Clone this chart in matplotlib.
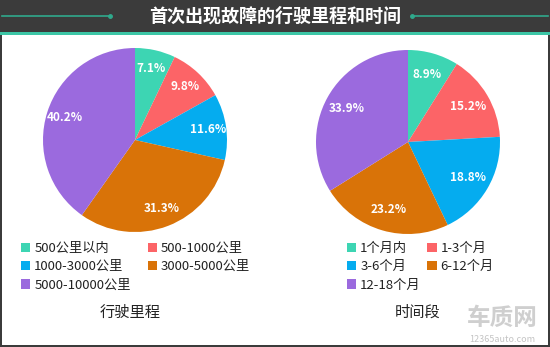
import matplotlib.pyplot as plt
from matplotlib.patches import Rectangle

plt.rcParams['font.family'] = ['Noto Sans CJK SC', 'DejaVu Sans']

# data
title = "首次出现故障的行驶里程和时间"
mileage_labels = ["500公里以内", "500-1000公里", "1000-3000公里", "3000-5000公里", "5000-10000公里"]
mileage_values = [7.1, 9.8, 11.6, 31.3, 40.2]
period_labels = ["1个月内", "1-3个月", "3-6个月", "6-12个月", "12-18个月"]
period_values = [8.9, 15.2, 18.8, 23.2, 33.9]
colors = ["#3dd5b3", "#fc6467", "#05acef", "#d97308", "#9b6ade"]

W, H = 550, 347
fig = plt.figure(figsize=(W / 100, H / 100), dpi=100)
fig.patch.set_facecolor("white")


def px(x, y, w, h):
    # pixel box (top-left origin) -> figure fraction
    return [x / W, 1 - (y + h) / H, w / W, h / H]


# header band
fig.add_artist(Rectangle((0, 1 - 32 / H), 1, 32 / H, transform=fig.transFigure,
                         facecolor="#3b3b3b", edgecolor="none"))
fig.add_artist(Rectangle((0, 1 - 35 / H), 1, 3.5 / H, transform=fig.transFigure,
                         facecolor="#3cc6a6", edgecolor="none"))
# decorative lines beside the title
for x0, x1 in [(2, 110), (412, 548)]:
    fig.add_artist(plt.Line2D([x0 / W, x1 / W], [1 - 16 / H] * 2, transform=fig.transFigure,
                              color="#2fa98c", lw=1.2))
    fig.add_artist(plt.Line2D([x0 / W, x1 / W], [1 - 16 / H] * 2, transform=fig.transFigure,
                              color="#2fa98c", lw=0, marker="o", markersize=2.5,
                              markevery=[1] if x0 < 200 else [0]))
fig.text(0.5, 1 - 16.5 / H, title, color="white", fontsize=13, fontweight="bold",
         ha="center", va="center")

# frame border
for rect in [(0, 0, 2 / W, 1 - 35 / H), (1 - 2 / W, 0, 2 / W, 1 - 35 / H), (0, 0, 1, 2 / H)]:
    fig.add_artist(Rectangle(rect[:2], rect[2], rect[3], transform=fig.transFigure,
                             facecolor="#3b3b3b", edgecolor="none"))

# legend fills column by column, so reorder to read row by row
order = [0, 2, 4, 1, 3]


def draw_pie(box, values, labels, pctdist, legend_anchor, colspacing, caption, cap_x):
    ax = fig.add_axes(px(*box))
    wedges, _, autotexts = ax.pie(values, colors=colors, startangle=90, counterclock=False,
                                  autopct=lambda p: f"{p:.1f}%", pctdistance=pctdist,
                                  wedgeprops=dict(linewidth=0),
                                  textprops=dict(color="white", fontsize=8.5, fontweight="bold"))
    ax.set_xlim(-1, 1)
    ax.set_ylim(-1, 1)
    ax.set_aspect("equal")
    fig.legend([wedges[i] for i in order], [labels[i] for i in order], ncol=2, loc="upper left",
               bbox_to_anchor=(legend_anchor[0] / W, 1 - legend_anchor[1] / H),
               frameon=False, fontsize=9.5, handlelength=0.7, handleheight=0.7,
               handletextpad=0.3, columnspacing=colspacing, labelspacing=0.4,
               borderpad=0, borderaxespad=0, labelcolor="#222222")
    fig.text(cap_x / W, 1 - 312 / H, caption, fontsize=11, color="#222222",
             ha="center", va="center")


draw_pie((43, 48, 184, 184), mileage_values, mileage_labels, 0.8, (21, 242), 1.3,
         "行驶里程", 130)
draw_pie((316, 50, 184, 184), period_values, period_labels, 0.76, (347, 242), 0.5,
         "时间段", 418)

# watermark
fig.text(502 / W, 1 - 318 / H, "车质网", fontsize=17, fontweight="bold", color="#cfcfcf",
         ha="center", va="center")
fig.text(502 / W, 1 - 339 / H, "12365auto.com", fontsize=6.5, color="#c4c4c4",
         ha="center", va="center")

fig.savefig("out.png", dpi=100)
